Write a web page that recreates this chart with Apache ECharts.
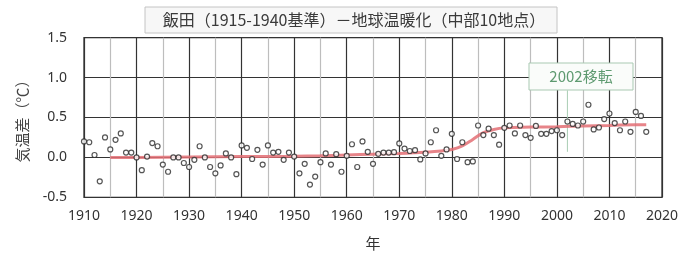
<!DOCTYPE html>
<html>
<head>
<meta charset="utf-8">
<script src="https://cdn.jsdelivr.net/npm/echarts@6/dist/echarts.min.js"></script>
<style>
html,body{margin:0;padding:0;background:#fff;}
#c{width:700px;height:262px;}
</style>
</head>
<body>
<div id="c"></div>
<script>
const titleText = '飯田（1915-1940基準）－地球温暖化（中部10地点）';
const yAxisName = '気温差（℃）';
const xAxisName = '年';
const noteText = '2002移転';
const noteYear = 2002;

const years = [1910,1911,1912,1913,1914,1915,1916,1917,1918,1919,
  1920,1921,1922,1923,1924,1925,1926,1927,1928,1929,
  1930,1931,1932,1933,1934,1935,1936,1937,1938,1939,
  1940,1941,1942,1943,1944,1945,1946,1947,1948,1949,
  1950,1951,1952,1953,1954,1955,1956,1957,1958,1959,
  1960,1961,1962,1963,1964,1965,1966,1967,1968,1969,
  1970,1971,1972,1973,1974,1975,1976,1977,1978,1979,
  1980,1981,1982,1983,1984,1985,1986,1987,1988,1989,
  1990,1991,1992,1993,1994,1995,1996,1997,1998,1999,
  2000,2001,2002,2003,2004,2005,2006,2007,2008,2009,
  2010,2011,2012,2013,2014,2015,2016,2017];
const anomalies = [0.20,0.19,0.03,-0.30,0.25,0.10,0.22,0.30,0.06,0.06,
  0.00,-0.16,0.01,0.18,0.14,-0.09,-0.18,0.00,0.00,-0.07,
  -0.12,-0.03,0.14,0.00,-0.12,-0.20,-0.10,0.05,0.00,-0.21,
  0.15,0.12,-0.02,0.095,-0.09,0.15,0.06,0.07,-0.03,0.06,
  0.01,-0.20,-0.08,-0.34,-0.24,-0.06,0.05,-0.09,0.04,-0.18,
  0.02,0.165,-0.12,0.20,0.07,-0.08,0.045,0.06,0.06,0.065,
  0.175,0.11,0.08,0.09,-0.025,0.05,0.19,0.34,0.02,0.10,
  0.295,-0.02,0.19,-0.06,-0.05,0.40,0.28,0.36,0.28,0.16,
  0.37,0.40,0.30,0.40,0.28,0.245,0.395,0.295,0.295,0.33,
  0.34,0.28,0.45,0.42,0.40,0.45,0.66,0.35,0.375,0.48,
  0.55,0.43,0.34,0.45,0.32,0.57,0.52,0.32];

const trendYears = [1915,1920,1930,1940,1950,1955,1960,1965,1970,1975,1978,1980,1982,1984,1985,1986,1988,1990,1995,2000,2005,2010,2015,2017];
const trendValues = [0.00,0.00,0.005,0.01,0.015,0.02,0.03,0.04,0.05,0.065,0.08,0.10,0.145,0.225,0.27,0.31,0.35,0.37,0.38,0.385,0.395,0.40,0.41,0.41];

const xTicks = [1910,1920,1930,1940,1950,1960,1970,1980,1990,2000,2010,2020];
const yTicks = [-0.5,0.0,0.5,1.0,1.5];

const noteLineRange = [0.07, 0.84];

const chart = echarts.init(document.getElementById('c'), null, {renderer:'canvas'});
const pts = years.map((y,i)=>[y, anomalies[i]]);
const trend = trendYears.map((y,i)=>[y, trendValues[i]]);

chart.setOption({
  backgroundColor:'#fff',
  animation:false,
  grid:{left:84, right:38, top:37.7, bottom:64.7, show:true, borderColor:'#222', borderWidth:1.2},
  xAxis:{
    type:'value', min:xTicks[0], max:xTicks[xTicks.length-1], interval:5,
    name:xAxisName, nameLocation:'middle', nameGap:38,
    nameTextStyle:{fontSize:15, color:'#333', fontFamily:'Noto Sans CJK JP'},
    axisLine:{show:false}, axisTick:{show:false},
    axisLabel:{margin:12, fontSize:14, color:'#333', fontFamily:'Noto Sans',
      formatter:v=> xTicks.includes(v) ? String(v) : ''},
    splitLine:{show:true, lineStyle:{color:['#333','#bdbdbd'], width:1.2}}
  },
  yAxis:{
    type:'value', min:yTicks[0], max:yTicks[yTicks.length-1], interval:0.5,
    name:yAxisName, nameLocation:'middle', nameGap:54, nameRotate:90,
    nameTextStyle:{fontSize:15, color:'#444', fontFamily:'Noto Sans CJK JP'},
    axisLine:{show:false}, axisTick:{show:false},
    axisLabel:{margin:17, fontSize:14, color:'#333', fontFamily:'Noto Sans',
      formatter:v=>v.toFixed(1)},
    splitLine:{show:true, lineStyle:{color:'#333', width:1.2}}
  },
  graphic:[
    {type:'rect', shape:{x:145, y:7, width:412, height:26},
      style:{fill:'#f7f7f7', stroke:'#c4c4c4', lineWidth:1}, z:10},
    {type:'text', x:354, y:20, z:11,
      style:{text:titleText, fill:'#3a3a3a', font:'16px "Noto Sans CJK JP"', align:'center', verticalAlign:'middle'}},
    {type:'rect', shape:{x:529, y:63, width:104, height:27},
      style:{fill:'#fafcfa', stroke:'#a9c9b2', lineWidth:1}, z:10},
    {type:'text', x:581, y:76.5, z:11,
      style:{text:noteText, fill:'#5e9a70', font:'15px "Noto Sans CJK JP"', align:'center', verticalAlign:'middle'}}
  ],
  series:[
    {
      type:'line', data:[[noteYear, noteLineRange[0]],[noteYear, noteLineRange[1]]],
      symbol:'none', lineStyle:{color:'#a9cdb4', width:1}, z:1, silent:true
    },
    {
      type:'line', data:trend, smooth:0.4, symbol:'none',
      lineStyle:{color:'#e36f74', width:3, opacity:0.85}, z:2
    },
    {
      type:'scatter', data:pts, symbol:'circle', symbolSize:5,
      itemStyle:{color:'#fff', borderColor:'#2a2a2a', borderWidth:1.2}, z:3
    }
  ]
});
</script>
</body>
</html>
